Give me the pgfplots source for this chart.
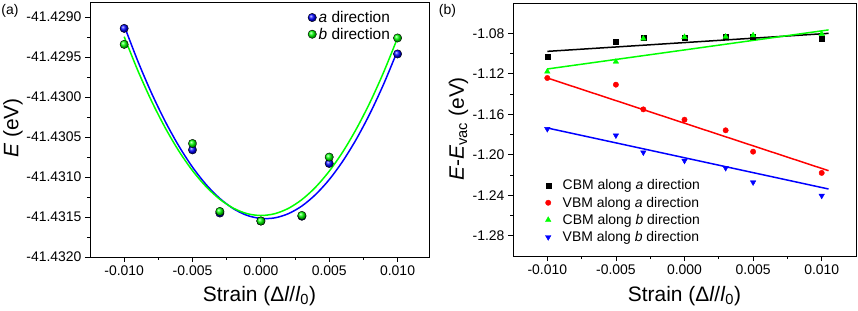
\documentclass[border=0pt]{standalone}
\usepackage{fontspec}
\setmainfont{Liberation Sans}
\usepackage{pgfplots}
\pgfplotsset{compat=1.18}
\definecolor{oblue}{RGB}{0,0,255}
\definecolor{ogreen}{RGB}{0,255,0}
\definecolor{ored}{RGB}{255,0,0}
\begin{document}
\begin{tikzpicture}
\useasboundingbox (0bp,0bp) rectangle (858bp,311bp);
\pgfplotsset{
  common/.style={
    scale only axis, anchor=south west,
    axis line style={line width=0.8bp},
    tick align=outside, tick pos=left,
    major tick length=5bp, minor tick length=3bp,
    every tick/.style={black, line width=0.8bp},
    minor tick num=1,
    scaled x ticks=false, scaled y ticks=false,
    tick label style={font=\fontsize{14}{16}\selectfont},
    /pgf/number format/assume math mode=true,
    xtick={-0.01,-0.005,0,0.005,0.01},
    xticklabel style={/pgf/number format/.cd, fixed, fixed zerofill, precision=3, /tikz/.cd},
    xlabel={Strain (Δ\textit{l}/\textit{l}\textsubscript{0})},
    label style={font=\fontsize{21}{24}\selectfont},
    legend cell align=left,
  }
}
\begin{axis}[common,
  at={(90bp,54bp)}, width=339bp, height=255bp,
  xmin=-0.0125, xmax=0.0123, ymin=-41.4320, ymax=-41.42881,
  ytick={-41.4320,-41.4315,-41.4310,-41.4305,-41.4300,-41.4295,-41.4290},
  yticklabel style={/pgf/number format/.cd, fixed, fixed zerofill, precision=4, /tikz/.cd},
  xlabel style={at={(axis description cs:0.5,-0.1745)}, anchor=base},
  ylabel={\textit{E} (eV)},
  ylabel style={at={(axis description cs:-0.2115,0.506)}, anchor=base},
  legend image code/.code={\draw[mark repeat=2,mark phase=2,#1] plot coordinates {(0bp,0bp) (4.25bp,0bp) (8bp,0bp)}; \path[draw=none,fill=none] (0bp,0bp) -- (8bp,0bp);},
  legend style={draw=none, fill=none, at={(axis description cs:0.642,0.9725)}, anchor=north west, inner sep=0pt, font=\fontsize{15.5}{17}\selectfont},
]
\addplot[oblue, line width=1.5bp, smooth, forget plot] coordinates {
(-0.010,-41.429106) (-0.009,-41.429550) (-0.008,-41.429949) (-0.007,-41.430303)
(-0.006,-41.430612) (-0.005,-41.430876) (-0.004,-41.431095) (-0.003,-41.431268)
(-0.002,-41.431397) (-0.001,-41.431480) (0.000,-41.431518) (0.001,-41.431511)
(0.002,-41.431459) (0.003,-41.431362) (0.004,-41.431219) (0.005,-41.431032)
(0.006,-41.430799) (0.007,-41.430521) (0.008,-41.430198) (0.009,-41.429830)
(0.010,-41.429417)};
\addplot[ogreen, line width=1.5bp, smooth, forget plot] coordinates {
(-0.010,-41.429244) (-0.009,-41.429668) (-0.008,-41.430048) (-0.007,-41.430383)
(-0.006,-41.430674) (-0.005,-41.430920) (-0.004,-41.431121) (-0.003,-41.431278)
(-0.002,-41.431390) (-0.001,-41.431458) (0.000,-41.431481) (0.001,-41.431459)
(0.002,-41.431393) (0.003,-41.431282) (0.004,-41.431127) (0.005,-41.430927)
(0.006,-41.430683) (0.007,-41.430393) (0.008,-41.430060) (0.009,-41.429681)
(0.010,-41.429259)};
\addplot[only marks, mark=ball, mark size=4.2bp, mark options={ball color=oblue}] coordinates {
(-0.010,-41.429140) (-0.005,-41.430660) (-0.003,-41.431450) (0.000,-41.431550)
(0.003,-41.431490) (0.005,-41.430830) (0.010,-41.429460)};
\addlegendentry{\textit{a} direction}
\addplot[only marks, mark=ball, mark size=4.2bp, mark options={ball color=ogreen}] coordinates {
(-0.010,-41.429340) (-0.005,-41.430580) (-0.003,-41.431430) (0.000,-41.431550)
(0.003,-41.431480) (0.005,-41.430750) (0.010,-41.429260)};
\addlegendentry{\textit{b} direction}
\end{axis}

\begin{axis}[common,
  at={(513bp,55bp)}, width=343bp, height=253bp,
  xmin=-0.0125, xmax=0.0125, ymin=-1.30, ymax=-1.05,
  ytick={-1.28,-1.24,-1.20,-1.16,-1.12,-1.08},
  yticklabel style={/pgf/number format/.cd, fixed, fixed zerofill, precision=2, /tikz/.cd},
  xlabel style={at={(axis description cs:0.5,-0.18)}, anchor=base},
  ylabel={\textit{E}-\textit{E}\textsubscript{vac} (eV)},
  ylabel style={at={(axis description cs:-0.143,0.502)}, anchor=base},
  legend image code/.code={\draw[mark repeat=2,mark phase=2,#1] plot coordinates {(0bp,0bp) (4.25bp,0bp) (16.75bp,0bp)}; \path[draw=none,fill=none] (0bp,0bp) -- (16.75bp,0bp);},
  legend style={draw=none, fill=none, at={(axis description cs:0.0897,0.043)}, anchor=south west, inner sep=0pt, row sep=1.6bp, font=\fontsize{14}{16}\selectfont},
]
\addplot[black, line width=1.5bp, forget plot] coordinates {(-0.010,-1.0978) (0.0105,-1.0800)};
\addplot[ored, line width=1.5bp, forget plot] coordinates {(-0.010,-1.1241) (0.0105,-1.2157)};
\addplot[ogreen, line width=1.5bp, forget plot] coordinates {(-0.010,-1.1152) (0.0105,-1.0766)};
\addplot[oblue, line width=1.5bp, forget plot] coordinates {(-0.010,-1.1735) (0.0105,-1.2338)};
\addplot[only marks, mark=square*, mark size=2.5bp, black] coordinates {
(-0.010,-1.1027) (-0.005,-1.0879) (-0.003,-1.0845) (0.000,-1.0839)
(0.003,-1.0833) (0.005,-1.0832) (0.010,-1.0849)};
\addlegendentry{CBM along \textit{a} direction}
\addplot[only marks, mark=*, mark size=2.7bp, ored] coordinates {
(-0.010,-1.1241) (-0.005,-1.1307) (-0.003,-1.1551) (0.000,-1.1653)
(0.003,-1.1758) (0.005,-1.1969) (0.010,-1.2179)};
\addlegendentry{VBM along \textit{a} direction}
\addplot[only marks, mark=triangle*, mark size=3.2bp, ogreen] coordinates {
(-0.010,-1.1178) (-0.005,-1.1080) (-0.003,-1.0852) (0.000,-1.0836)
(0.003,-1.0833) (0.005,-1.0820) (0.010,-1.0806)};
\addlegendentry{CBM along \textit{b} direction}
\addplot[only marks, mark=triangle*, mark size=3.2bp, oblue, mark options={rotate=180}] coordinates {
(-0.010,-1.1745) (-0.005,-1.1808) (-0.003,-1.1976) (0.000,-1.2058)
(0.003,-1.2130) (0.005,-1.2272) (0.010,-1.2404)};
\addlegendentry{VBM along \textit{b} direction}
\end{axis}
\node[font=\fontsize{14}{16}\selectfont] at (10bp,300bp) {(a)};
\node[font=\fontsize{14}{16}\selectfont] at (447.5bp,300bp) {(b)};
\end{tikzpicture}
\end{document}
